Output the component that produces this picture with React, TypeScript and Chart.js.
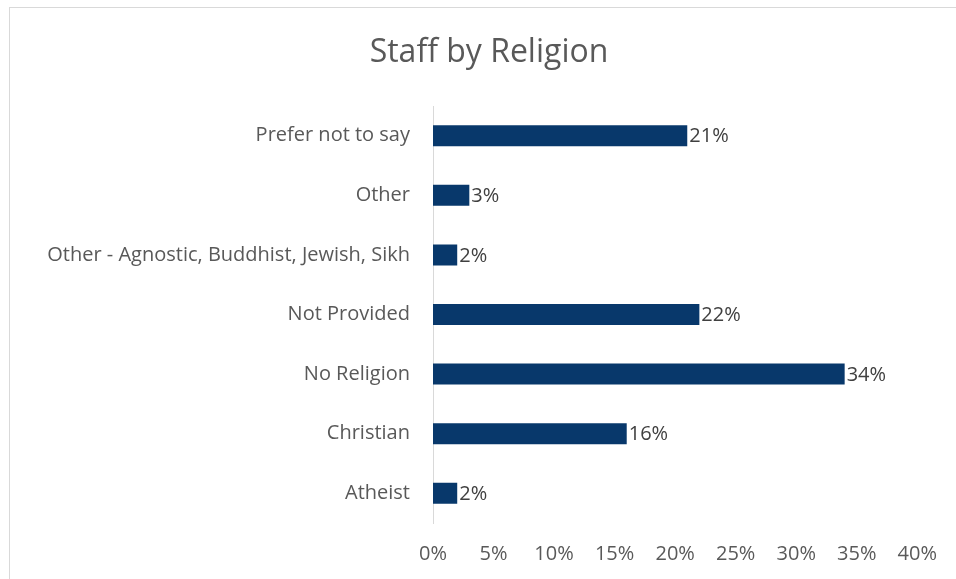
import React, { useEffect, useRef } from "react";
import { Chart, registerables } from "chart.js";

Chart.register(...registerables);

const TITLE = "Staff by Religion";
const categories = [
  "Prefer not to say",
  "Other",
  "Other - Agnostic, Buddhist, Jewish, Sikh",
  "Not Provided",
  "No Religion",
  "Christian",
  "Atheist",
];
const values = [21, 3, 2, 22, 34, 16, 2];
const xTicks = [0, 5, 10, 15, 20, 25, 30, 35, 40];

const FONT = "'Open Sans', 'Noto Sans', sans-serif";
const BAR_COLOR = "#08386B";
const TICK_COLOR = "#595959";
const LABEL_COLOR = "#404040";
const AXIS_COLOR = "#D9D9D9";

const W = 946;
const H = 571;

const titlePlugin = {
  id: "customTitle",
  afterDraw(chart: any) {
    const ctx = chart.ctx;
    ctx.save();
    ctx.font = `32px ${FONT}`;
    ctx.fillStyle = TICK_COLOR;
    ctx.textAlign = "center";
    ctx.textBaseline = "middle";
    ctx.fillText(TITLE, 479, 45);
    ctx.restore();
  },
};

const valueLabels = {
  id: "valueLabels",
  afterDatasetsDraw(chart: any) {
    const ctx = chart.ctx;
    const meta = chart.getDatasetMeta(0);
    ctx.save();
    ctx.font = `20px ${FONT}`;
    ctx.fillStyle = LABEL_COLOR;
    ctx.textAlign = "left";
    ctx.textBaseline = "middle";
    meta.data.forEach((bar: any, i: number) => {
      ctx.fillText(`${Math.round(values[i])}%`, bar.x + 2, bar.y + 1);
    });
    ctx.restore();
  },
};

export default function App() {
  const ref = useRef<HTMLCanvasElement>(null);
  useEffect(() => {
    if (!ref.current) return;
    const chart = new Chart(ref.current, {
      type: "bar",
      data: {
        labels: categories,
        datasets: [
          {
            data: values,
            backgroundColor: BAR_COLOR,
            borderWidth: 0,
            barPercentage: 0.353,
            categoryPercentage: 1,
          },
        ],
      },
      options: {
        indexAxis: "y",
        responsive: false,
        animation: false,
        layout: { padding: { top: 98, right: 35, left: 0, bottom: 0 } },
        plugins: {
          legend: { display: false },
          title: { display: false },
          tooltip: { enabled: false },
        },
        scales: {
          x: {
            min: 0,
            max: 40,
            afterBuildTicks(scale: any) {
              scale.ticks = xTicks.map((v) => ({ value: v }));
            },
            afterFit(scale: any) {
              scale.height = 56;
            },
            grid: { display: false, drawTicks: false, tickLength: 0 },
            border: { display: false },
            ticks: {
              padding: 19,
              color: TICK_COLOR,
              font: { family: FONT, size: 20 },
              callback: (v: any) => `${v}%`,
            },
          },
          y: {
            afterFit(scale: any) {
              scale.width = 423;
            },
            grid: { display: false, drawTicks: false, tickLength: 0 },
            border: { display: true, color: AXIS_COLOR, width: 1 },
            ticks: {
              padding: 23,
              color: TICK_COLOR,
              font: { family: FONT, size: 20 },
            },
          },
        },
      },
      plugins: [titlePlugin, valueLabels],
    } as any);
    return () => chart.destroy();
  }, []);
  return (
    <div
      style={{
        position: "absolute",
        left: 9,
        top: 7,
        width: 947,
        height: 572,
        boxSizing: "border-box",
        borderTop: `1px solid ${AXIS_COLOR}`,
        borderLeft: `1px solid ${AXIS_COLOR}`,
        background: "#fff",
        overflow: "hidden",
      }}
    >
      <canvas ref={ref} width={W} height={H} style={{ display: "block" }} />
    </div>
  );
}
